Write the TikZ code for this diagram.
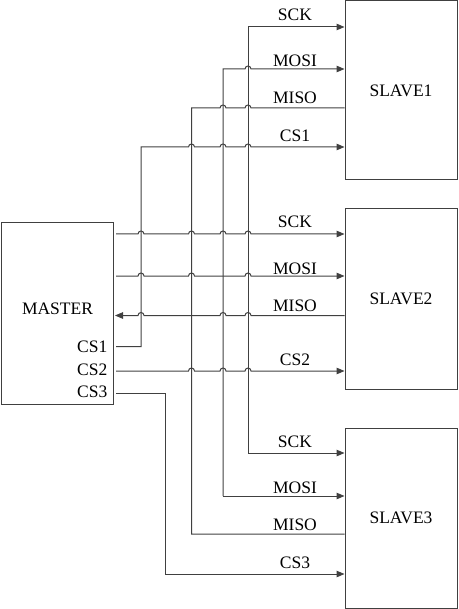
\documentclass[tikz,border=0pt]{standalone}
\usepackage{fontspec}
\setmainfont{Liberation Serif}
\usetikzlibrary{arrows.meta}
\definecolor{lc}{HTML}{404040}
\begin{document}
\begin{tikzpicture}[x=1pt,y=-1pt,
  wire/.style={draw=lc, line width=1pt},
  arr/.style={-{Triangle[length=8pt,width=6.5pt]}},
  rarr/.style={{Triangle[length=8pt,width=6.5pt]}-},
  barr/.style={{Triangle[length=8pt,width=6.5pt]}-{Triangle[length=8pt,width=6.5pt]}},
  box/.style={draw=lc, line width=1pt, inner sep=0pt, minimum width=112pt, font=\fontsize{17.5}{20}\selectfont},
  lbl/.style={font=\fontsize{17.5}{20}\selectfont, inner sep=0pt, anchor=base},
  cs/.style={font=\fontsize{17.5}{20}\selectfont, inner sep=0pt, anchor=west}]
\useasboundingbox (0,0) rectangle (458,609);

% boxes
\node[box, minimum height=179pt] (s1) at (401,90.5) {SLAVE1};
\node[box, minimum height=180pt] (s2) at (401,299) {SLAVE2};
\node[box, minimum height=180pt] (s3) at (401,518) {SLAVE3};
\node[box, minimum height=181pt] (m) at (57,313.5) {};
\node[lbl, anchor=center] (mt) at (57.5,309) {MASTER};
\node[cs] (cs1t) at (77,346.5) {CS1};
\node[cs] (cs2t) at (77,369.5) {CS2};
\node[cs] (cs3t) at (77,391.5) {CS3};

% master side start points
\coordinate (mSCK) at (116,234);
\coordinate (mMOSI) at (116,276);
\coordinate (mMISO) at (115,315.5);
\coordinate (mCS1) at (116,346.5);
\coordinate (mCS2) at (116,371);
\coordinate (mCS3) at (116,393);

% bus corners
\coordinate (sckT) at (248,27);
\coordinate (sckB) at (248,453);
\coordinate (mosiT) at (223,69);
\coordinate (mosiB) at (223,496);
\coordinate (misoT) at (191.5,108);
\coordinate (misoB) at (191.5,534);
\coordinate (cs1a) at (141,346.5);
\coordinate (cs1b) at (141,147);
\coordinate (cs3a) at (165,393);
\coordinate (cs3b) at (165,574);

% master horizontal lines
\draw[wire,arr] (mSCK) foreach \x in {141,191.5,223,248}{ -- (\x-3,234) arc[start angle=180,end angle=0,radius=3pt] } -- (s2.west |- mSCK);
\draw[wire,arr] (mMOSI) foreach \x in {141,191.5,248}{ -- (\x-3,276) arc[start angle=180,end angle=0,radius=3pt] } -- (s2.west |- mMOSI);
\draw[wire,rarr] (mMISO) foreach \x in {141,223,248}{ -- (\x-3,315.5) arc[start angle=180,end angle=0,radius=3pt] } -- (s2.west |- mMISO);
\draw[wire,arr] (mCS2) foreach \x in {191.5,223,248}{ -- (\x-3,371) arc[start angle=180,end angle=0,radius=3pt] } -- (s2.west |- mCS2);

% CS1 and CS3
\draw[wire,arr] (mCS1) -- (cs1a) -- (cs1b) foreach \x in {191.5,223,248}{ -- (\x-3,147) arc[start angle=180,end angle=0,radius=3pt] } -- (s1.west |- cs1b);
\draw[wire,arr] (mCS3) -- (cs3a) -- (cs3b) -- (s3.west |- cs3b);

% buses
\draw[wire,barr] (s1.west |- sckT) -- (sckT) -- (sckB) -- (s3.west |- sckB);
\draw[wire,arr] (mosiB) -- (s3.west |- mosiB);
\draw[wire,arr] (mosiB) -- (mosiT) -- (245,69) arc[start angle=180,end angle=0,radius=3pt] -- (s1.west |- mosiT);
\draw[wire] (s3.west |- misoB) -- (misoB) -- (misoT) foreach \x in {223,248}{ -- (\x-3,108) arc[start angle=180,end angle=0,radius=3pt] } -- (s1.west |- misoT);

% labels
\node[lbl] (l1) at (295,21) {SCK};
\node[lbl] (l2) at (295,66.5) {MOSI};
\node[lbl] (l3) at (295,103.5) {MISO};
\node[lbl] (l4) at (295,141.5) {CS1};
\node[lbl] (l5) at (295,228) {SCK};
\node[lbl] (l6) at (295,274) {MOSI};
\node[lbl] (l7) at (295,311.5) {MISO};
\node[lbl] (l8) at (295,365) {CS2};
\node[lbl] (l9) at (295,447) {SCK};
\node[lbl] (l10) at (295,493) {MOSI};
\node[lbl] (l11) at (295,530) {MISO};
\node[lbl] (l12) at (295,568.3) {CS3};
\end{tikzpicture}
\end{document}
